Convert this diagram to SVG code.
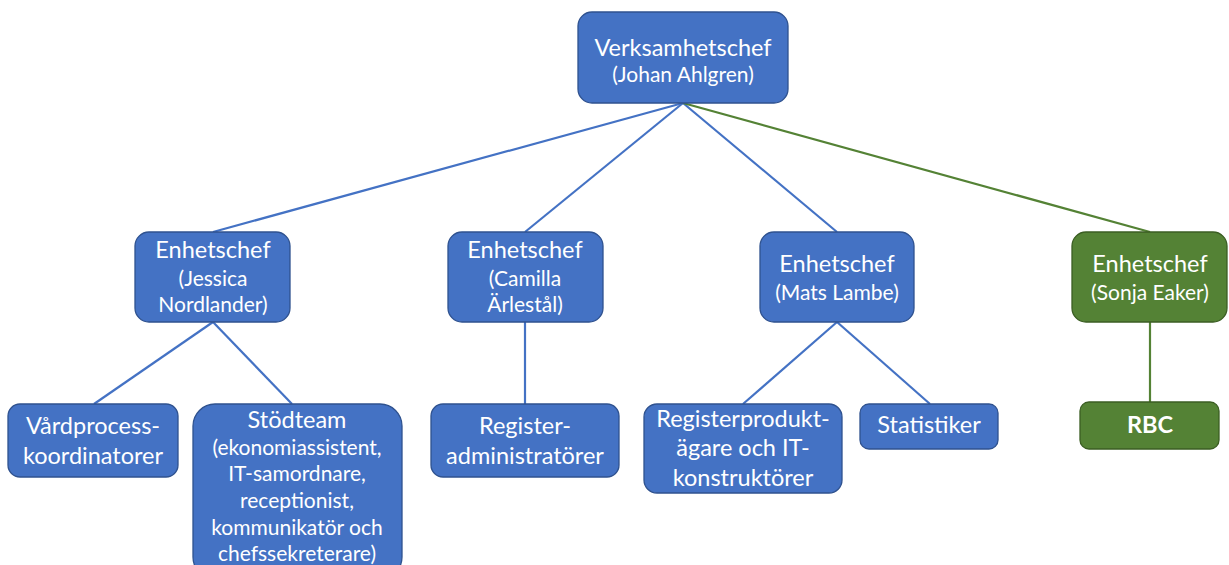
<svg xmlns="http://www.w3.org/2000/svg" width="1229" height="565" viewBox="0 0 1229 565">
<style>
.b{fill:#4472C4;stroke:#2F528F;stroke-width:1.3}
.g{fill:#548235;stroke:#3B5E23;stroke-width:1.3}
.t{font-family:Lato,"Liberation Sans",sans-serif;fill:#fff;text-anchor:middle}
.h{font-size:23.5px}
.s{font-size:21px}
.cb{stroke:#4472C4;stroke-width:2.2;fill:none}
.cg{stroke:#548235;stroke-width:2.2;fill:none}
</style>
<rect width="1229" height="565" fill="#fff"/>
<g id="connectors">
<line class="cb" x1="683" y1="103" x2="213" y2="232"/>
<line class="cb" x1="683" y1="103" x2="525" y2="232"/>
<line class="cb" x1="683" y1="103" x2="837" y2="232"/>
<line class="cg" x1="683" y1="103" x2="1150" y2="232"/>
<line class="cb" x1="213" y1="322" x2="94" y2="404"/>
<line class="cb" x1="213" y1="322" x2="292" y2="404"/>
<line class="cb" x1="525" y1="322" x2="525" y2="404"/>
<line class="cb" x1="837" y1="322" x2="743" y2="404"/>
<line class="cb" x1="837" y1="322" x2="930" y2="404"/>
<line class="cg" x1="1150" y1="322" x2="1150" y2="402"/>
</g>
<g id="n-top">
<rect class="b" x="578" y="12" width="210" height="91" rx="14"/>
<text class="t h" x="683" y="56">Verksamhetschef</text>
<text class="t s" x="683" y="82">(Johan Ahlgren)</text>
</g>
<g id="n-jessica">
<rect class="b" x="135" y="232" width="155" height="90" rx="14"/>
<text class="t h" x="213" y="258">Enhetschef</text>
<text class="t s" x="213" y="286">(Jessica</text>
<text class="t s" x="213" y="312">Nordlander)</text>
</g>
<g id="n-camilla">
<rect class="b" x="448" y="232" width="155" height="90" rx="14"/>
<text class="t h" x="525" y="258">Enhetschef</text>
<text class="t s" x="525" y="286">(Camilla</text>
<text class="t s" x="525" y="312">Ärlestål)</text>
</g>
<g id="n-mats">
<rect class="b" x="760" y="232" width="154" height="90" rx="14"/>
<text class="t h" x="837" y="272">Enhetschef</text>
<text class="t s" x="837" y="300">(Mats Lambe)</text>
</g>
<g id="n-sonja">
<rect class="g" x="1072" y="232" width="155" height="90" rx="14"/>
<text class="t h" x="1150" y="272">Enhetschef</text>
<text class="t s" x="1150" y="300">(Sonja Eaker)</text>
</g>
<g id="n-vard">
<rect class="b" x="8" y="404" width="170" height="73" rx="12"/>
<text class="t h" x="93" y="434">Vårdprocess-</text>
<text class="t h" x="93" y="464">koordinatorer</text>
</g>
<g id="n-stod">
<rect class="b" x="193" y="404" width="209" height="175" rx="22"/>
<text class="t h" x="297" y="428">Stödteam</text>
<text class="t s" x="297" y="455">(ekonomiassistent,</text>
<text class="t s" x="297" y="481">IT-samordnare,</text>
<text class="t s" x="297" y="508">receptionist,</text>
<text class="t s" x="297" y="535">kommunikatör och</text>
<text class="t s" x="297" y="561">chefssekreterare)</text>
</g>
<g id="n-regadm">
<rect class="b" x="431" y="404" width="188" height="73" rx="12"/>
<text class="t h" x="525" y="434">Register-</text>
<text class="t h" x="525" y="464">administratörer</text>
</g>
<g id="n-regprod">
<rect class="b" x="644" y="404" width="198" height="89" rx="13"/>
<text class="t h" x="743" y="427">Registerprodukt-</text>
<text class="t h" x="743" y="456">ägare och IT-</text>
<text class="t h" x="743" y="486">konstruktörer</text>
</g>
<g id="n-stat">
<rect class="b" x="860" y="404" width="138" height="45" rx="9"/>
<text class="t h" x="929" y="433">Statistiker</text>
</g>
<g id="n-rbc">
<rect class="g" x="1080" y="402" width="139" height="47" rx="9"/>
<text class="t h" x="1150" y="433" font-weight="bold">RBC</text>
</g>
</svg>
